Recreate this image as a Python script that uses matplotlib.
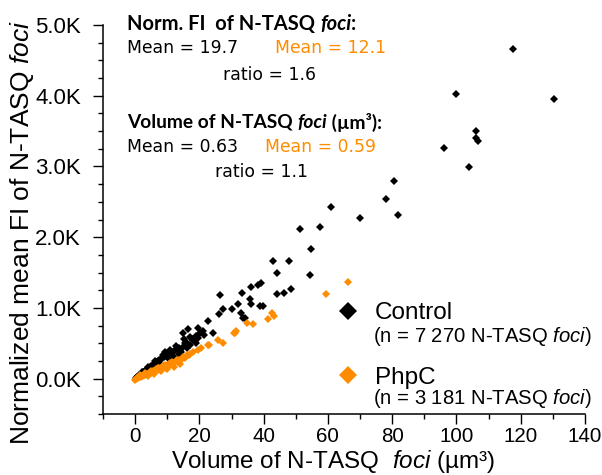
import numpy as np
import matplotlib
matplotlib.use("Agg")
import matplotlib.pyplot as plt
from matplotlib.lines import Line2D
from matplotlib.ticker import MultipleLocator, FuncFormatter

plt.rcParams["font.family"] = "Liberation Sans"
plt.rcParams["mathtext.fontset"] = "custom"
plt.rcParams["mathtext.rm"] = "Liberation Sans"
plt.rcParams["mathtext.it"] = "Liberation Sans:italic"

ORANGE = "#ff8c00"
TITLE_FONT = "Lato"
NOTE_FONT = "DejaVu Sans"

# Control foci: volume (um^3) and normalized mean FI
control_vol = [
    117.7, 100.0, 130.4, 106.2, 106.0, 106.7, 96.0, 104.0, 80.7, 78.2,
    81.7, 69.9, 61.0, 51.2, 57.4, 54.6, 54.3, 42.8, 47.8, 44.1,
    48.4, 46.2, 44.1, 39.1, 38.2, 36.0, 33.2, 26.3, 35.7, 36.2,
    38.8, 39.7, 32.0, 30.1, 27.3, 26.1, 32.9, 33.5, 34.2, 22.7,
    19.6, 16.5, 14.9, 21.4, 18.0, 19.6, 16.5, 24.2, 21.1,
    0.3, 0.6, 1.0, 1.4, 1.8, 2.2, 2.6, 3.0, 3.4, 3.8,
    4.2, 4.6, 5.0, 5.5, 6.0, 6.5, 7.0, 7.5, 8.0, 8.5,
    9.0, 9.5, 10.0, 10.6, 11.2, 11.8, 12.4, 13.0, 13.6, 14.3,
    15.0, 15.5, 9.3, 6.2, 4.0, 2.0, 7.8, 10.5, 12.0, 13.5,
    5.0, 3.0, 16.0, 17.2, 14.0, 11.0, 8.8, 12.8, 15.8, 17.8,
    18.8, 20.2, 17.0, 15.2, 19.0,
]
control_fi = [
    4660, 4020, 3950, 3500, 3400, 3360, 3260, 2990, 2800, 2540,
    2310, 2270, 2430, 2110, 2140, 1830, 1460, 1660, 1660, 1500,
    1270, 1210, 1190, 1350, 1320, 1290, 1210, 1180, 1120, 1060,
    1020, 1030, 1050, 980, 980, 920, 930, 860, 860, 820,
    710, 700, 640, 610, 540, 580, 470, 640, 680,
    10, 20, 35, 50, 65, 80, 95, 110, 120, 140,
    150, 165, 180, 195, 210, 230, 245, 260, 275, 290,
    305, 320, 330, 345, 360, 380, 400, 420, 440, 370,
    450, 500, 370, 250, 170, 90, 210, 280, 310, 350,
    130, 75, 430, 480, 400, 400, 340, 460, 520, 560,
    600, 650, 590, 560, 500,
]

# PhpC foci
phpc_vol = [
    66.1, 59.3, 43.2, 42.5, 41.3, 36.6, 34.8, 31.4, 31.0, 30.7,
    27.3, 25.8, 23.0, 22.7, 20.5, 19.5, 18.0,
    0.0, 0.3, 0.6, 1.0, 1.3, 1.7, 2.0, 2.4, 2.8, 3.2,
    3.6, 4.0, 4.5, 5.0, 5.5, 6.0, 6.5, 7.0, 7.5, 8.0,
    8.5, 9.0, 9.5, 10.0, 10.5, 11.0, 11.5, 12.0, 12.6, 13.2,
    13.8, 14.4, 15.0, 15.6, 16.2, 16.8, 17.2, 1.5, 3.0, 5.0,
    7.0, 9.0, 11.0, 13.0, 4.0, 6.0, 8.0, 10.0, 12.0, 14.0,
]
phpc_fi = [
    1370, 1200, 890, 930, 850, 770, 780, 670, 650, 650,
    510, 550, 480, 470, 430, 410, 380,
    -25, -5, 5, 10, 25, 25, 40, 35, 50, 55,
    70, 65, 90, 85, 110, 105, 130, 125, 150, 145,
    170, 160, 190, 175, 210, 195, 230, 215, 250, 240,
    270, 260, 300, 290, 330, 330, 355, 50, 80, 110,
    150, 190, 220, 260, 40, 70, 110, 140, 170, 210,
]

xticks = [0, 20, 40, 60, 80, 100, 120, 140]
yticks = [0, 1000, 2000, 3000, 4000, 5000]

W, H = 602, 475


def fx(x):
    return x / W


def fy(y):
    return 1 - y / H


fig = plt.figure(figsize=(W / 100, H / 100), dpi=100)
ax = fig.add_axes([fx(103), fy(414), (585 - 103) / W, (414 - 25) / H])

ax.plot(control_vol, control_fi, "D", color="black", ms=3.7, mew=0, zorder=2)
ax.plot(phpc_vol, phpc_fi, "D", color=ORANGE, ms=3.7, mew=0, zorder=3)

ax.set_xlim(-10, 140)
ax.set_ylim(-500, 5000)
ax.set_xticks(xticks)
ax.set_yticks(yticks)
ax.xaxis.set_minor_locator(MultipleLocator(10))
ax.yaxis.set_minor_locator(MultipleLocator(250))
ax.yaxis.set_major_formatter(FuncFormatter(lambda v, p: f"{v / 1000:.1f}K"))
ax.tick_params(which="major", length=7, width=1)
ax.tick_params(which="minor", length=3.5, width=1)
ax.tick_params(axis="y", which="major", pad=9, labelsize=16)
ax.tick_params(axis="x", which="major", pad=2.5, labelsize=14.8)
for s in ["top", "right"]:
    ax.spines[s].set_visible(False)
for s in ["left", "bottom"]:
    ax.spines[s].set_linewidth(1.1)

ax.set_xlabel(r"Volume of N-TASQ  $\mathit{foci}$ (µm³)", fontsize=17.5)
ax.set_ylabel(r"Normalized mean FI of N-TASQ $\mathit{foci}$", fontsize=19)
ax.xaxis.set_label_coords((333 - 103) / 482, -(475 - 414) / 389)
ax.yaxis.set_label_coords(-(103 - 22) / 482, (414 - 233) / 389)
ax.xaxis.label.set_va("bottom")
ax.yaxis.label.set_va("center")

# legend
handles = [
    Line2D([], [], marker="D", ls="none", color="black", ms=9.5, mew=0),
    Line2D([], [], marker="D", ls="none", color=ORANGE, ms=9.5, mew=0),
]
ax.legend(handles, ["Control", "PhpC"], loc="upper left",
          bbox_to_anchor=(fx(336), fy(302)), bbox_transform=fig.transFigure,
          frameon=False, fontsize=17.5, borderpad=0, handlelength=1,
          handletextpad=0.6, labelspacing=1.75, borderaxespad=0)
fig.text(fx(373), fy(337), r"(n = 7 270 N-TASQ $\mathit{foci}$)", fontsize=14.6, va="center")
fig.text(fx(373), fy(399), r"(n = 3 181 N-TASQ $\mathit{foci}$)", fontsize=14.6, va="center")

# annotation block
renderer = fig.canvas.get_renderer()


def put(parts, x, y, size=12.4, family=NOTE_FONT):
    for txt, kw in parts:
        t = fig.text(fx(x), fy(y), txt, fontsize=size, family=family, va="center", **kw)
        x += t.get_window_extent(renderer).width


bold = {"weight": "bold"}
bold_it = {"weight": "bold", "style": "italic"}
put([("Norm. FI  of N-TASQ ", bold), ("foci", bold_it), (":", bold)], 127, 24, 14.5, TITLE_FONT)
put([("Mean = 19.7", {})], 127, 48)
put([("Mean = 12.1", {"color": ORANGE})], 275, 48)
put([("ratio = 1.6", {})], 223, 75)
put([("Volume of N-TASQ ", bold), ("foci", bold_it), (" (µm³):", bold)], 127, 122, 13.8, TITLE_FONT)
put([("Mean = 0.63", {})], 127, 147)
put([("Mean = 0.59", {"color": ORANGE})], 265, 147)
put([("ratio = 1.1", {})], 215, 172)

fig.savefig("out.png", dpi=100)
